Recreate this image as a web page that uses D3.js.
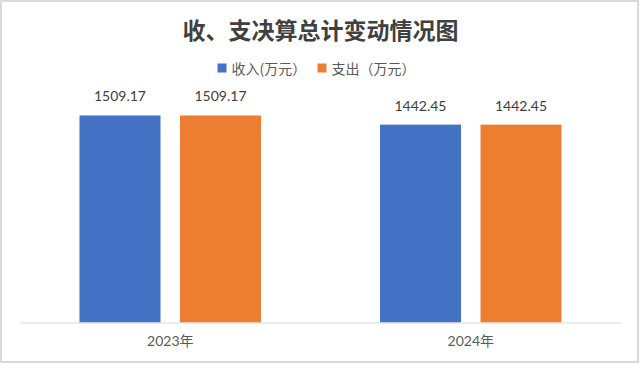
<!DOCTYPE html>
<html>
<head>
<meta charset="utf-8">
<script src="https://cdn.jsdelivr.net/npm/d3@7/dist/d3.min.js"></script>
<style>
  html, body { margin: 0; padding: 0; background: #fff; }
  svg { display: block; }
</style>
</head>
<body>
<svg id="chart" width="640" height="365"></svg>
<script>
const title = "收、支决算总计变动情况图";
const categories = ["2023年", "2024年"];
const seriesNames = ["收入(万元）", "支出（万元）"];
const incomeValues = [1509.17, 1442.45];
const expenseValues = [1509.17, 1442.45];
const seriesColors = ["#4472c4", "#ed7d31"];
const valueLabels = [["1509.17", "1509.17"], ["1442.45", "1442.45"]];

const W = 640, H = 365;
const plot = { left: 20, right: 621, top: 103, bottom: 322.5 };
const svg = d3.select("#chart");

// outer border
svg.append("rect")
  .attr("x", 1).attr("y", 1).attr("width", W - 3).attr("height", H - 4)
  .attr("fill", "#fff").attr("stroke", "#d9d9d9").attr("stroke-width", 2);

// title
svg.append("text")
  .attr("x", 320.5).attr("y", 29)
  .attr("text-anchor", "middle").attr("dominant-baseline", "central")
  .attr("font-family", "'Noto Sans CJK SC', sans-serif")
  .attr("font-size", 23).attr("font-weight", 700)
  .attr("fill", "#404040")
  .text(title);

const x0 = d3.scaleBand().domain(categories).range([plot.left, plot.right]).padding(0);
const x1 = d3.scaleBand().domain(seriesNames).range([0, x0.bandwidth()])
  .paddingInner(0.194).paddingOuter(0.592);
const y = d3.scaleLinear().domain([0, 1600]).range([plot.bottom, plot.top]);

const rows = categories.map((c, i) => ({
  cat: c,
  vals: [
    { s: seriesNames[0], v: incomeValues[i], label: valueLabels[i][0], color: seriesColors[0] },
    { s: seriesNames[1], v: expenseValues[i], label: valueLabels[i][1], color: seriesColors[1] }
  ]
}));

const g = svg.append("g");
const groups = g.selectAll("g.cat").data(rows).join("g")
  .attr("class", "cat")
  .attr("transform", d => `translate(${x0(d.cat)},0)`);

groups.selectAll("rect").data(d => d.vals).join("rect")
  .attr("x", d => x1(d.s))
  .attr("y", d => y(d.v))
  .attr("width", x1.bandwidth())
  .attr("height", d => y(0) - y(d.v))
  .attr("fill", d => d.color);

groups.selectAll("text.val").data(d => d.vals).join("text")
  .attr("class", "val")
  .attr("x", d => x1(d.s) + x1.bandwidth() / 2)
  .attr("y", d => y(d.v) - 14)
  .attr("text-anchor", "middle")
  .attr("font-family", "Lato, 'Noto Sans', sans-serif")
  .attr("font-size", 14)
  .attr("fill", "#404040")
  .text(d => d.label);

// baseline axis
const xAxis = d3.axisBottom(x0).tickSize(0).tickPadding(14);
const ax = svg.append("g").attr("transform", `translate(0,${plot.bottom})`).call(xAxis);
ax.select(".domain").attr("stroke", "#d9d9d9").attr("stroke-width", 1.2);
ax.selectAll(".tick text")
  .attr("font-family", "Lato, 'Noto Sans CJK SC', sans-serif")
  .attr("font-size", 14)
  .attr("fill", "#595959");

// legend
const legendX = [217.5, 317.5];
const lg = svg.append("g");
seriesNames.forEach((s, i) => {
  lg.append("rect")
    .attr("x", legendX[i]).attr("y", 63.5).attr("width", 9).attr("height", 9)
    .attr("fill", seriesColors[i]);
  lg.append("text")
    .attr("x", legendX[i] + 14).attr("y", 68)
    .attr("dominant-baseline", "central")
    .attr("font-family", "'Noto Sans CJK SC', sans-serif")
    .attr("font-size", 14)
    .attr("fill", "#595959")
    .text(s);
});
</script>
</body>
</html>
